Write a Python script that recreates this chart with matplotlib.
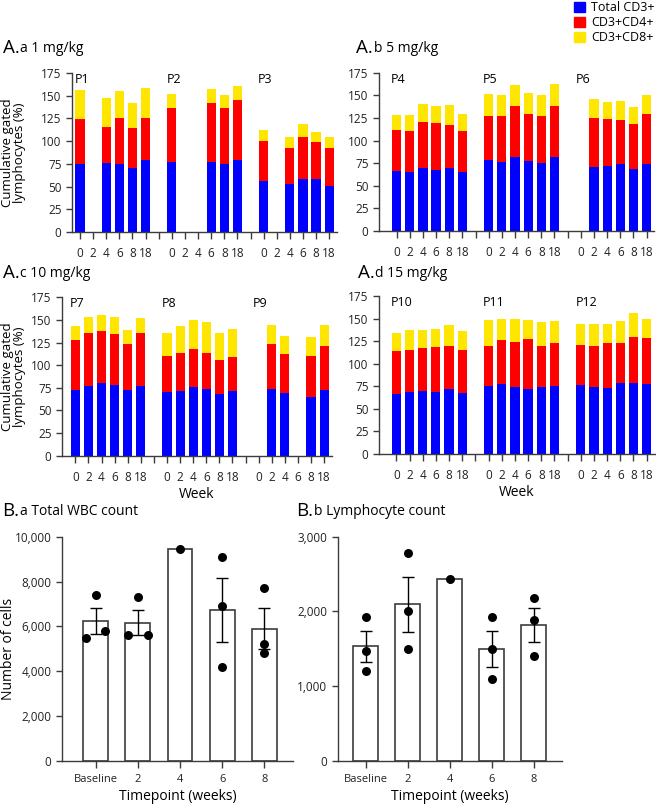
import numpy as np
import matplotlib
matplotlib.use('Agg')
import matplotlib.pyplot as plt
from matplotlib.patches import Patch
from matplotlib.ticker import FuncFormatter

plt.rcParams['font.family'] = ['Open Sans', 'DejaVu Sans']

# Stacked panels: percentage of gated lymphocytes per week, nan = not sampled
weeks = ['0', '2', '4', '6', '8', '18']
nan = np.nan

# A.a 1 mg/kg
pat_a = ['P1', 'P2', 'P3']
cd3_a = [[75, nan, 76, 75, 70, 79], [77, nan, nan, 77, 75, 79], [56, nan, 53, 58, 58, 51]]
cd4_a = [[49, nan, 40, 50, 45, 47], [60, nan, nan, 65, 61, 66], [44, nan, 40, 47, 41, 42]]
cd8_a = [[32, nan, 31, 30, 27, 32], [15, nan, nan, 15, 15, 16], [12, nan, 12, 14, 11, 12]]

# A.b 5 mg/kg
pat_b = ['P4', 'P5', 'P6']
cd3_b = [[66, 65, 70, 67, 70, 65], [78, 76, 82, 77, 75, 82], [nan, 71, 72, 74, 69, 74]]
cd4_b = [[46, 46, 51, 53, 47, 46], [49, 51, 56, 52, 52, 56], [nan, 54, 52, 49, 49, 55]]
cd8_b = [[16, 17, 19, 18, 22, 18], [24, 23, 23, 24, 23, 25], [nan, 21, 19, 21, 19, 21]]

# A.c 10 mg/kg
pat_c = ['P7', 'P8', 'P9']
cd3_c = [[73, 77, 80, 78, 73, 77], [70, 71, 76, 74, 68, 71], [nan, 74, 69, nan, 65, 73]]
cd4_c = [[55, 59, 58, 56, 50, 59], [40, 42, 42, 39, 38, 38], [nan, 49, 43, nan, 45, 48]]
cd8_c = [[15, 17, 17, 19, 16, 16], [26, 30, 32, 35, 30, 31], [nan, 22, 20, nan, 21, 23]]

# A.d 15 mg/kg
pat_d = ['P10', 'P11', 'P12']
cd3_d = [[67, 69, 70, 69, 72, 68], [75, 77, 74, 72, 74, 75], [76, 74, 73, 79, 79, 78]]
cd4_d = [[47, 46, 47, 49, 48, 47], [45, 49, 50, 55, 46, 48], [45, 46, 50, 44, 51, 51]]
cd8_d = [[20, 22, 20, 20, 23, 21], [28, 24, 25, 21, 26, 24], [23, 24, 21, 24, 26, 21]]

# B panels: individual values per timepoint
timepoints = ['Baseline', '2', '4', '6', '8']
wbc = [[7400, 5500, 5800], [7300, 5600, 5600], [9450], [9100, 6900, 4200], [7700, 5200, 4800]]
lymph = [[1920, 1475, 1205], [2775, 2010, 1500], [2440], [1920, 1495, 1090], [2175, 1890, 1400]]

c_cd3 = '#0000FF'
c_cd4 = '#FF0000'
c_cd8 = '#FFE600'
spine_col = '#3c3c3c'

fig = plt.figure(figsize=(6.56, 8.07), dpi=100)


def panel_title(x, y, letter, rest):
    # big letter + smaller sub title right after it
    t1 = fig.text(x, y, letter, fontsize=13.5, va='bottom', ha='left')
    fig.add_artist(plt.Annotation(rest, xy=(1, 0), xycoords=t1, fontsize=10,
                                  va='bottom', ha='left', xytext=(0.5, 0.5),
                                  textcoords='offset points'))


def style_axes(ax):
    for s in ['top', 'right']:
        ax.spines[s].set_visible(False)
    for s in ['left', 'bottom']:
        ax.spines[s].set_color(spine_col)
        ax.spines[s].set_linewidth(1.0)
    ax.tick_params(colors=spine_col, labelcolor='#222222', length=4, width=1.0, labelsize=8.5)


def stacked(rect, xlim, patients, cd3, cd4, cd8, ylab_x=None, xlabel=False):
    ax = fig.add_axes(rect)
    for g in range(len(patients)):
        for i in range(len(weeks)):
            v3, v4, v8 = cd3[g][i], cd4[g][i], cd8[g][i]
            if np.isnan(v3):
                continue
            pos = g * 7 + i
            ax.bar(pos, v3, width=0.7, color=c_cd3)
            ax.bar(pos, v4, width=0.7, bottom=v3, color=c_cd4)
            ax.bar(pos, v8, width=0.7, bottom=v3 + v4, color=c_cd8)
        ax.text(g * 7 - 0.42, 175, patients[g], fontsize=9, va='top', ha='left')
    labels = []
    for g in range(3):
        labels += weeks
        if g < 2:
            labels.append('')
    ax.set_xticks(range(20))
    ax.set_xticklabels(labels)
    ax.set_xlim(*xlim)
    ax.set_ylim(0, 175)
    ax.set_yticks(range(0, 176, 25))
    style_axes(ax)
    ax.tick_params(axis='x', length=5, pad=6)
    if ylab_x is not None:
        ax.set_ylabel('Cumulative gated\nlymphocytes (%)', fontsize=9.5, linespacing=0.85)
        ax.yaxis.set_label_coords(ylab_x, 0.5)
    if xlabel:
        ax.set_xlabel('Week', fontsize=10, labelpad=2)
    return ax


stacked([0.1098, 0.7125, 0.404, 0.197], (-0.61, 19.6), pat_a, cd3_a, cd4_a, cd8_a, ylab_x=-0.175)
stacked([0.5777, 0.7138, 0.419, 0.196], (-1.34, 19.55), pat_b, cd3_b, cd4_b, cd8_b)
stacked([0.0945, 0.4353, 0.4116, 0.1962], (-1.02, 19.6), pat_c, cd3_c, cd4_c, cd8_c, ylab_x=-0.135, xlabel=True)
stacked([0.5777, 0.4374, 0.4207, 0.1958], (-1.32, 19.63), pat_d, cd3_d, cd4_d, cd8_d, xlabel=True)

panel_title(0.004, 1 - 57 / 807, 'A.', 'a 1 mg/kg')
panel_title(0.543, 1 - 57 / 807, 'A.', 'b 5 mg/kg')
panel_title(0.004, 1 - 282 / 807, 'A.', 'c 10 mg/kg')
panel_title(0.545, 1 - 282 / 807, 'A.', 'd 15 mg/kg')

handles = [Patch(color=c_cd3), Patch(color=c_cd4), Patch(color=c_cd8)]
fig.legend(handles, ['Total CD3+', 'CD3+CD4+', 'CD3+CD8+'], loc='upper right',
           bbox_to_anchor=(1.0, 1.0), frameon=False, fontsize=9, handlelength=0.9,
           handleheight=0.9, handletextpad=0.5, labelspacing=0.15, borderaxespad=0.0,
           borderpad=0.1)


def swarm_offsets(vals, thr, step):
    vals = np.asarray(vals, dtype=float)
    order = np.argsort(vals)
    offs = np.zeros(len(vals))
    for k in range(1, len(order)):
        a, b = order[k - 1], order[k]
        if abs(vals[b] - vals[a]) < thr and offs[a] == 0:
            offs[a] = -step
            offs[b] = step
    return offs


def dot_bar(rect, xlim, groups, ymax, ystep, thr, ylabel=None):
    ax = fig.add_axes(rect)
    x = np.arange(len(groups))
    means = [np.mean(g) for g in groups]
    ax.bar(x, means, width=0.59, color='white', edgecolor=spine_col, linewidth=1.2, zorder=1)
    for i, g in enumerate(groups):
        if len(g) > 1:
            sem = np.std(g, ddof=1) / np.sqrt(len(g))
            ax.errorbar(i, means[i], yerr=sem, color='black', capsize=4.5, elinewidth=1.0,
                        capthick=1.0, zorder=2)
        offs = swarm_offsets(g, thr, 0.23)
        ax.scatter(i + offs, g, s=42, color='black', zorder=3, linewidths=0)
    ax.set_xticks(x)
    ax.set_xticklabels(timepoints)
    ax.set_xlim(*xlim)
    ax.set_ylim(0, ymax)
    ax.set_yticks(np.arange(0, ymax + 1, ystep))
    ax.yaxis.set_major_formatter(FuncFormatter(lambda v, p: f'{v:,.0f}'))
    style_axes(ax)
    ax.tick_params(axis='x', length=5, pad=4, labelsize=8)
    ax.set_xlabel('Timepoint (weeks)', fontsize=10, labelpad=3)
    if ylabel:
        ax.set_ylabel(ylabel, fontsize=10)
        ax.yaxis.set_label_coords(-0.2, 0.5)
    return ax


dot_bar([0.0945, 0.057, 0.352, 0.278], (-0.8, 4.68), wbc, 10000, 2000, 350, ylabel='Number of cells')
dot_bar([0.515, 0.057, 0.341, 0.278], (-0.66, 4.66), lymph, 3000, 1000, 110)

panel_title(0.004, 1 - 520 / 807, 'B.', 'a Total WBC count')
panel_title(0.451, 1 - 520 / 807, 'B.', 'b Lymphocyte count')

fig.savefig('out.png', dpi=100)
